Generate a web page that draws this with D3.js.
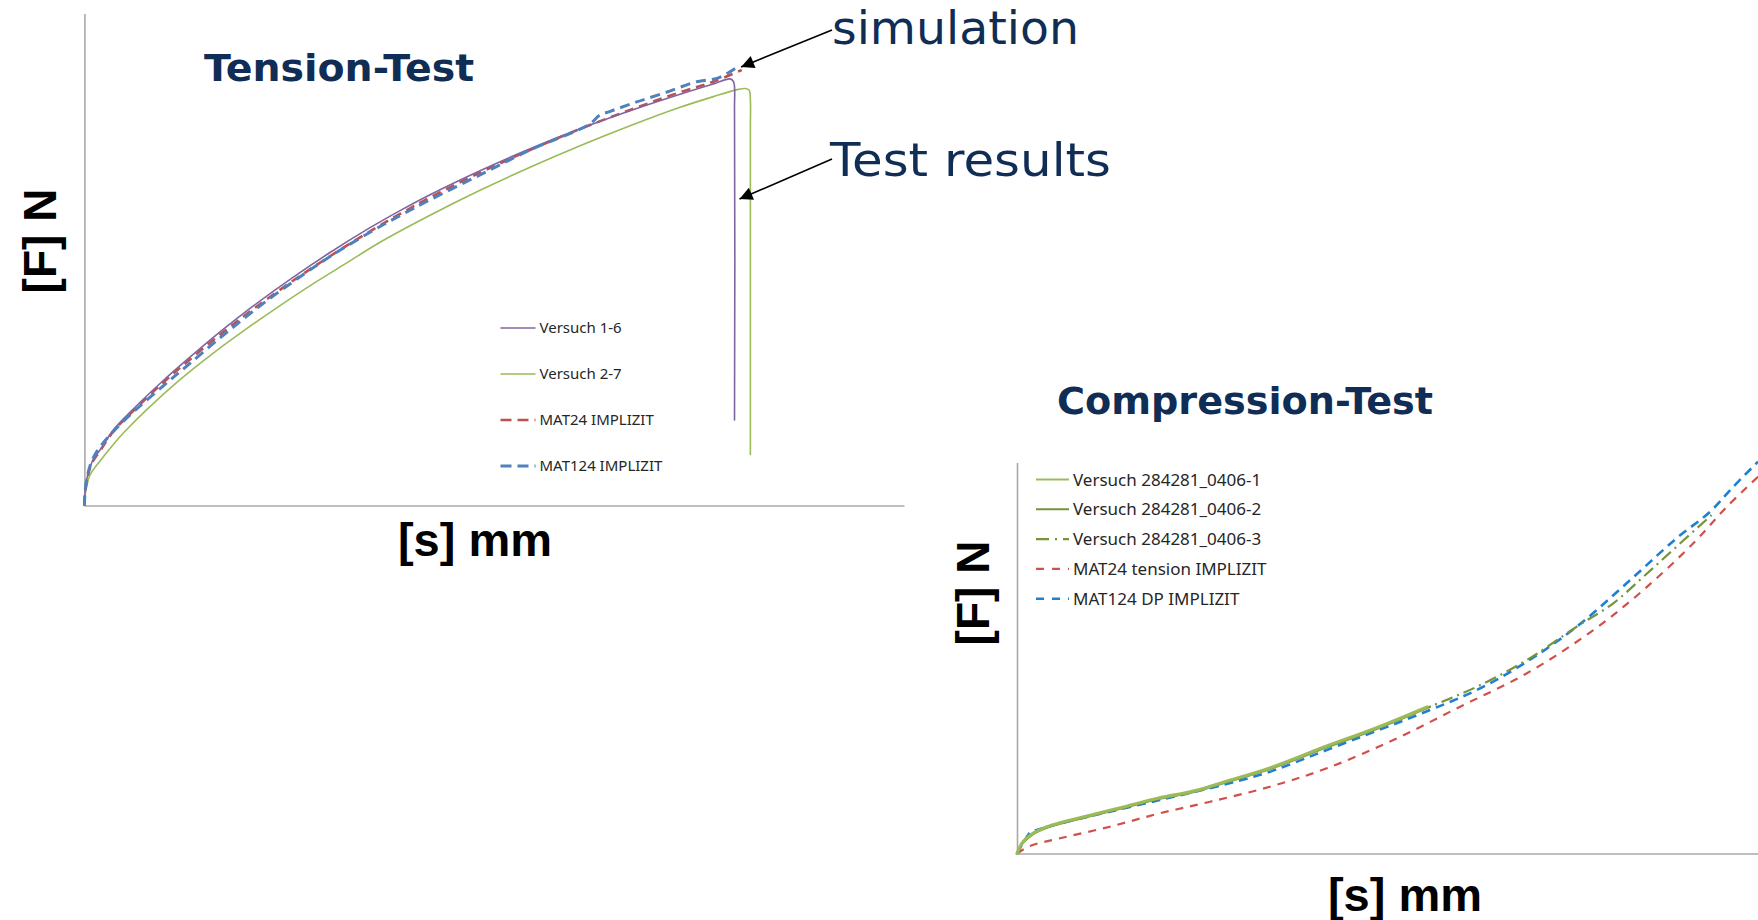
<!DOCTYPE html>
<html>
<head>
<meta charset="utf-8">
<script src="https://cdn.jsdelivr.net/npm/d3@7"></script>
<style>
  html, body { margin: 0; padding: 0; background: #ffffff; }
  svg { display: block; }
</style>
</head>
<body>
<svg id="chart" width="1758" height="920"></svg>
<script>
// ---------- Tension test: displacement s [mm], force F [N] ----------
const tensionVersuch16 = [
  [0, 0], [0.012, 320], [0.034, 625], [0.12, 982], [0.26, 1387], [0.476, 1692],
  [0.882, 2302], [1.492, 2942], [2.407, 3811], [3.121, 4439], [4.137, 5293],
  [5.153, 6085], [6.373, 6963], [7.492, 7713], [8.713, 8470], [9.628, 8991],
  [10.543, 9476], [12.068, 10207], [13.594, 10878], [15.119, 11488], [16.644, 12037],
  [18.170, 12540], [19.186, 12854], [19.695, 13006], [19.80, 12921], [19.83, 12000],
  [19.83, 2607]
];
const tensionVersuch27 = [
  [0, 0], [0.018, 274], [0.079, 625], [0.171, 930], [0.476, 1357], [0.882, 1863],
  [1.239, 2262], [1.901, 2924], [2.916, 3838], [3.932, 4649], [4.951, 5393],
  [5.967, 6095], [6.983, 6765], [8.002, 7396], [9.018, 8024], [10.543, 8848],
  [12.068, 9610], [13.594, 10311], [15.119, 10966], [16.644, 11576], [18.170, 12140],
  [19.186, 12466], [19.939, 12686], [20.152, 12713], [20.274, 12668], [20.314, 12363],
  [20.314, 11500], [20.314, 1555]
];
const tensionMat24 = [
  [0, 0], [0.02, 381], [0.09, 838], [0.23, 1296], [0.476, 1660], [0.882, 2260],
  [1.492, 2890], [2.407, 3750], [3.121, 4370], [4.137, 5210], [5.153, 5990],
  [6.373, 6860], [7.492, 7600], [8.713, 8360], [9.628, 8890], [10.543, 9390],
  [12.068, 10150], [13.594, 10840], [15.119, 11480], [16.644, 12060], [18.170, 12600],
  [19.186, 12920], [20.05, 13277]
];
const tensionMat124 = [
  [0, 0], [0.02, 412], [0.08, 838], [0.17, 1204], [0.35, 1601], [0.78, 2149],
  [1.49, 2851], [2.407, 3650], [3.121, 4250], [4.137, 5110], [5.153, 5930],
  [6.373, 6830], [7.492, 7590], [8.713, 8330], [9.628, 8840], [10.543, 9320],
  [12.068, 10080], [13.594, 10840], [15.40, 11620], [15.72, 11900], [16.02, 12010],
  [16.80, 12290], [17.70, 12580], [18.68, 12921], [19.29, 13024], [19.63, 13186],
  [20.00, 13430]
];
const tensionLabels = ["Versuch 1-6", "Versuch 2-7", "MAT24 IMPLIZIT", "MAT124 IMPLIZIT"];

// ---------- Compression test: displacement s [mm], force F [N] ----------
const compVersuch1 = [
  [0, 0], [0.06, 700], [0.13, 1260], [0.26, 1840], [0.40, 2280], [0.62, 2760],
  [0.87, 3140], [1.54, 3990], [2.22, 4840], [2.89, 5700], [3.57, 6380],
  [4.24, 7400], [5.12, 8760], [6.27, 10990], [7.28, 12870], [8.30, 15000]
];
const compVersuch2 = [
  [0, 0], [0.06, 630], [0.13, 1160], [0.26, 1740], [0.40, 2190], [0.62, 2670],
  [0.87, 3040], [1.54, 3890], [2.22, 4740], [2.89, 5600], [3.57, 6270],
  [4.24, 7290], [5.12, 8640], [6.27, 10870], [7.28, 12750], [8.36, 15021]
];
const compVersuch3 = [
  [0, 0], [0.06, 665], [0.13, 1207], [0.26, 1791], [0.40, 2231], [0.62, 2712],
  [0.87, 3090], [1.54, 3939], [2.22, 4789], [2.89, 5648], [3.57, 6324],
  [4.24, 7347], [5.12, 8698], [6.27, 10928], [7.28, 12811], [8.36, 15021],
  [9.31, 17068], [10.32, 19800], [11.33, 23207], [12.07, 25601], [12.68, 28323],
  [13.35, 31393], [14.06, 34636]
];
const compMat24 = [
  [0, 0], [0.26, 767], [0.87, 1555], [1.88, 2742], [2.89, 4113], [3.91, 5300],
  [5.12, 6835], [6.27, 8718], [7.62, 11614], [8.97, 15021], [10.32, 18439],
  [11.67, 22869], [12.68, 26962], [13.69, 31741], [14.37, 35486], [15.00, 38555]
];
const compMat124 = [
  [0, 0], [0.10, 870], [0.20, 1719], [0.28, 2200], [0.40, 2405], [0.87, 3070],
  [1.54, 3888], [2.89, 5474], [4.24, 7111], [5.12, 8370], [6.27, 10590],
  [8.36, 14683], [9.31, 16730], [10.32, 19626], [11.33, 23207], [12.34, 27648],
  [13.35, 32252], [14.03, 34974], [14.50, 37532], [15.00, 40090]
];
const compLabels = ["Versuch 284281_0406-1", "Versuch 284281_0406-2", "Versuch 284281_0406-3",
                    "MAT24 tension IMPLIZIT", "MAT124 DP IMPLIZIT"];

// ---------- drawing ----------
const svg = d3.select("#chart");
const navy = "#102d55";
const axisGrey = "#a9a9a9";

svg.append("defs").append("marker")
  .attr("id", "arrowhead")
  .attr("viewBox", "0 0 10 10")
  .attr("refX", 10).attr("refY", 5)
  .attr("markerUnits", "userSpaceOnUse")
  .attr("markerWidth", 19).attr("markerHeight", 13)
  .attr("orient", "auto")
  .append("path").attr("d", "M0,0 L10,5 L0,10 Z").attr("fill", "#000");

const curve = d3.curveCatmullRom.alpha(0.5);

function drawAxes(x, y, xPos, yPos) {
  const gx = svg.append("g").attr("transform", `translate(0,${yPos})`)
    .call(d3.axisBottom(x).tickValues([]).tickSize(0).tickSizeOuter(0));
  const gy = svg.append("g").attr("transform", `translate(${xPos},0)`)
    .call(d3.axisLeft(y).tickValues([]).tickSize(0).tickSizeOuter(0));
  [gx, gy].forEach(g => g.select(".domain").attr("stroke", axisGrey).attr("stroke-width", 1.6));
}

function drawSeries(x, y, data, style) {
  const line = d3.line().x(d => x(d[0])).y(d => y(d[1])).curve(curve);
  svg.append("path").datum(data)
    .attr("d", line)
    .attr("fill", "none")
    .attr("stroke", style.color)
    .attr("stroke-width", style.width)
    .attr("stroke-dasharray", style.dash || null)
    .attr("stroke-linejoin", "round")
    .attr("stroke-linecap", style.dash ? "butt" : "round");
}

function drawLegend(items, x0, y0, step, fontSize, lineLen) {
  items.forEach((it, i) => {
    const yy = y0 + i * step;
    svg.append("line")
      .attr("x1", x0).attr("x2", x0 + lineLen)
      .attr("y1", yy).attr("y2", yy)
      .attr("stroke", it.style.color)
      .attr("stroke-width", it.style.legendWidth || it.style.width)
      .attr("stroke-dasharray", it.style.legendDash || null);
    svg.append("text")
      .attr("x", x0 + lineLen + 4).attr("y", yy)
      .attr("dy", "0.36em")
      .attr("font-family", "'Noto Sans', sans-serif")
      .attr("font-size", fontSize)
      .attr("fill", "#262626")
      .text(it.label);
  });
}

function title(text, x, y, len) {
  svg.append("text").attr("x", x).attr("y", y)
    .attr("font-family", "'DejaVu Sans', sans-serif").attr("font-weight", "bold")
    .attr("font-size", 38).attr("fill", navy)
    .attr("textLength", len).attr("lengthAdjust", "spacingAndGlyphs")
    .text(text);
}

function axisLabels(fx, fy, sx, sy) {
  svg.append("text").attr("transform", `translate(${fx},${fy}) rotate(-90)`)
    .attr("text-anchor", "middle")
    .attr("font-family", "'Liberation Sans', Arial, sans-serif").attr("font-weight", "bold")
    .attr("font-size", 46).attr("fill", "#000").text("[F] N");
  svg.append("text").attr("x", sx).attr("y", sy)
    .attr("text-anchor", "middle")
    .attr("font-family", "'Liberation Sans', Arial, sans-serif").attr("font-weight", "bold")
    .attr("font-size", 47).attr("fill", "#000").text("[s] mm");
}

// ---- Tension panel ----
const xT = d3.scaleLinear().domain([0, 25]).range([84.4, 904]);
const yT = d3.scaleLinear().domain([0, 15000]).range([505.5, 13.5]);
drawAxes(xT, yT, 84.4, 505.5);

const tStyles = [
  { color: "#8064a2", width: 1.6, legendWidth: 1.6 },
  { color: "#9bbb59", width: 1.6, legendWidth: 1.6 },
  { color: "#c0504d", width: 2.6, dash: "9,6", legendDash: "11,6" },
  { color: "#4f81bd", width: 3, dash: "10,6", legendDash: "11,6" }
];
drawSeries(xT, yT, tensionVersuch27, tStyles[1]);
drawSeries(xT, yT, tensionMat24, tStyles[2]);
drawSeries(xT, yT, tensionVersuch16, tStyles[0]);
drawSeries(xT, yT, tensionMat124, tStyles[3]);

drawLegend(tensionLabels.map((l, i) => ({ label: l, style: tStyles[i] })), 500.5, 328, 46, 15, 35);

title("Tension-Test", 204, 81, 270);
axisLabels(56, 241, 475, 556);

// ---- annotations ----
const simEnd = tensionMat124[tensionMat124.length - 1];
const drop = tensionVersuch16[tensionVersuch16.length - 1];
const annotations = [
  { text: "simulation", tx: 832, ty: 44, len: 247, from: [832, 30], to: [xT(simEnd[0]) + 1, yT(simEnd[1]) + 2] },
  { text: "Test results", tx: 830, ty: 176, len: 281, from: [832, 159], to: [xT(drop[0]) + 5, 199] }
];
annotations.forEach(a => {
  svg.append("line")
    .attr("x1", a.from[0]).attr("y1", a.from[1])
    .attr("x2", a.to[0]).attr("y2", a.to[1])
    .attr("stroke", "#000").attr("stroke-width", 1.6)
    .attr("marker-end", "url(#arrowhead)");
  svg.append("text").attr("x", a.tx).attr("y", a.ty)
    .attr("font-family", "'DejaVu Sans', sans-serif")
    .attr("font-size", 47).attr("fill", navy)
    .attr("textLength", a.len).attr("lengthAdjust", "spacingAndGlyphs")
    .text(a.text);
});

// ---- Compression panel ----
const xC = d3.scaleLinear().domain([0, 15]).range([1017, 1758]);
const yC = d3.scaleLinear().domain([0, 40000]).range([853.5, 462.6]);
drawAxes(xC, yC, 1017, 853.5);

const cStyles = [
  { color: "#9bbb59", width: 3.2, legendWidth: 2 },
  { color: "#77933c", width: 2.2, legendWidth: 2 },
  { color: "#77933c", width: 2.2, dash: "12,5,2,5", legendDash: "13,6,2,6" },
  { color: "#d0504d", width: 2.2, dash: "8,7", legendDash: "8,8" },
  { color: "#1e7fd3", width: 2.6, dash: "9,6", legendDash: "8,8" }
];
drawSeries(xC, yC, compMat24, cStyles[3]);
drawSeries(xC, yC, compMat124, cStyles[4]);
drawSeries(xC, yC, compVersuch3, cStyles[2]);
drawSeries(xC, yC, compVersuch2, cStyles[1]);
drawSeries(xC, yC, compVersuch1, cStyles[0]);

drawLegend(compLabels.map((l, i) => ({ label: l, style: cStyles[i] })), 1036, 479.5, 29.8, 17, 33);

title("Compression-Test", 1057, 414, 376);
axisLabels(989, 593, 1405, 911);
</script>
</body>
</html>
